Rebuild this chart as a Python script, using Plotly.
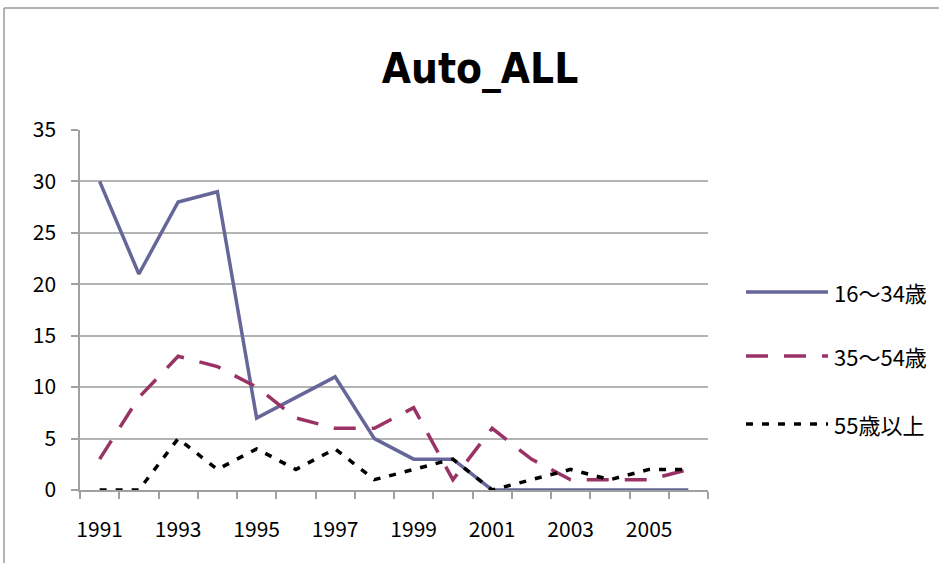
import plotly.graph_objects as go

years = list(range(1991, 2007))
s1_name = "16～34歳"
s2_name = "35～54歳"
s3_name = "55歳以上"
s1 = [30, 21, 28, 29, 7, 9, 11, 5, 3, 3, 0, 0, 0, 0, 0, 0]
s2 = [3, 9, 13, 12, 10, 7, 6, 6, 8, 1, 6, 3, 1, 1, 1, 2]
s3 = [0, 0, 5, 2, 4, 2, 4, 1, 2, 3, 0, 1, 2, 1, 2, 2]
tick_years = [1991, 1993, 1995, 1997, 1999, 2001, 2003, 2005]

c1, c2, c3 = "#666699", "#993366", "#000000"
dash2 = "22px,16px"
dash3 = "7px,9px"
font = "Noto Sans CJK JP"

fig = go.Figure()
fig.add_trace(go.Scatter(x=years, y=s1, mode="lines", name=s1_name,
                         line=dict(color=c1, width=3.5)))
fig.add_trace(go.Scatter(x=years, y=s2, mode="lines", name=s2_name,
                         line=dict(color=c2, width=3.5, dash=dash2)))
fig.add_trace(go.Scatter(x=years, y=s3, mode="lines", name=s3_name,
                         line=dict(color=c3, width=3.5, dash=dash3)))

L, R, T, B = 80, 708, 130, 490
W, H = 939, 563
def px(x):
    return (x - L) / (R - L)
def py(y):
    return (B - y) / (B - T)

shapes = []
annotations = []
# outer chart border (top and left)
shapes.append(dict(type="line", xref="paper", yref="paper", x0=px(4), x1=px(W + 5),
                   y0=py(8), y1=py(8), line=dict(color="#9a9a9a", width=1.5)))
shapes.append(dict(type="line", xref="paper", yref="paper", x0=px(4), x1=px(4),
                   y0=py(8), y1=py(H + 5), line=dict(color="#9a9a9a", width=1.5)))

legend_items = [(s1_name, c1, "solid", 292), (s2_name, c2, dash2, 356), (s3_name, c3, dash3, 424)]
for name, col, d, yy in legend_items:
    shapes.append(dict(type="line", xref="paper", yref="paper", x0=px(746), x1=px(828),
                       y0=py(yy), y1=py(yy), line=dict(color=col, width=3.5, dash=d)))
    annotations.append(dict(text=name, xref="paper", yref="paper", x=px(832), y=py(yy),
                            xanchor="left", yanchor="middle", showarrow=False,
                            font=dict(family=font, size=22, color="#000")))

fig.update_layout(
    width=W, height=H,
    margin=dict(l=L, r=W - R, t=T, b=H - B, pad=0),
    paper_bgcolor="white", plot_bgcolor="white",
    showlegend=False,
    title=dict(text="<b>Auto_ALL</b>", x=480 / W,
               xanchor="center", y=1 - 68 / H, yanchor="middle",
               font=dict(family="DejaVu Sans Condensed, Liberation Sans", size=42, color="#000")),
    font=dict(family=font, size=20, color="#000"),
    shapes=shapes, annotations=annotations,
)
fig.update_xaxes(range=[1990.5, 2006.5], tickvals=tick_years, ticktext=[str(t) for t in tick_years],
                 ticks="", showgrid=False, showline=True, linecolor="#a0a0a0", linewidth=1.5,
                 zeroline=False, tickfont=dict(family=font, size=21), ticklabelstandoff=20,
                 minor=dict(ticks="outside", tick0=1990.5, dtick=1, ticklen=7,
                            tickcolor="#a0a0a0", tickwidth=1.5, showgrid=False))
fig.update_yaxes(range=[0, 35], dtick=5, ticks="outside", ticklen=7, tickcolor="#a0a0a0",
                 tickwidth=1.5, showgrid=True, gridcolor="#b4b4b4", gridwidth=1.5,
                 showline=True, linecolor="#a0a0a0", linewidth=1.5, zeroline=False,
                 tickfont=dict(family=font, size=21), ticklabelstandoff=11)

fig.write_html("out.html", config={"displayModeBar": False},
               post_script="document.body.style.margin='0';document.body.style.padding='0';document.body.style.overflow='hidden';")
